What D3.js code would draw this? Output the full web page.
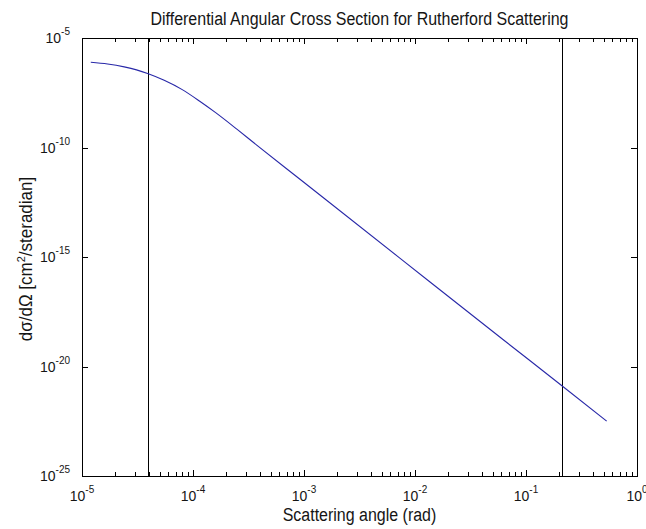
<!DOCTYPE html>
<html>
<head>
<meta charset="utf-8">
<script src="https://cdn.jsdelivr.net/npm/d3@7"></script>
<style>
  html, body { margin: 0; padding: 0; background: #fff; }
  svg { display: block; }
  text { font-family: "Liberation Sans", Arial, sans-serif; fill: #151515; }
</style>
</head>
<body>
<svg id="chart" width="646" height="529"></svg>
<script>
// Scattering angle (rad) and differential cross section (cm^2/sr)
const angle = [1.2e-5, 1.7e-5, 2.4e-5, 3.1e-5, 3.9e-5, 5.5e-5, 8.0e-5, 1.15e-4, 1.6e-4, 2.5e-4, 3.75e-4,
               9.2e-4, 7.3e-3, 6.0e-2, 0.212, 0.533];
const crossSection = [7.8e-7, 6.5e-7, 4.8e-7, 3.5e-7, 2.4e-7, 1.17e-7, 4.4e-8, 1.3e-8, 3.9e-9, 6.7e-10, 1.29e-10,
                      3.55e-12, 8.9e-16, 1.95e-19, 1.29e-21, 3.2e-23];

// Vertical marker lines (rad)
const markers = [3.9e-5, 0.212];

// Axis ticks
const xMajorExp = [-5, -4, -3, -2, -1, 0];
const yMajorExp = [-5, -10, -15, -20, -25];

const titleText = "Differential Angular Cross Section for Rutherford Scattering";
const xLabelText = "Scattering angle (rad)";

const plotL = 82, plotR = 637, plotT = 38, plotB = 476;
const stretch = 1.1; // glyphs are a little taller than wide

const x = d3.scaleLog().domain([1e-5, 1]).range([plotL, plotR]);
const y = d3.scaleLog().domain([1e-25, 1e-5]).range([plotB, plotT]);

const svg = d3.select("#chart");

// minor x ticks: 2..9 within each decade
const xMinor = [];
for (let e = -5; e < 0; e++) for (let k = 2; k <= 9; k++) xMinor.push(k * Math.pow(10, e));
const xMajor = xMajorExp.map(e => Math.pow(10, e));
const yMajor = yMajorExp.map(e => Math.pow(10, e));

const axisG = svg.append("g").attr("stroke", "#000").attr("stroke-width", 1).attr("shape-rendering", "crispEdges");

// ticks bottom and top (inward)
xMinor.forEach(v => {
  const px = Math.round(x(v)) + 0.5;
  axisG.append("line").attr("x1", px).attr("x2", px).attr("y1", plotB).attr("y2", plotB - 4);
  axisG.append("line").attr("x1", px).attr("x2", px).attr("y1", plotT).attr("y2", plotT + 4);
});
xMajor.forEach(v => {
  const px = Math.round(x(v)) + 0.5;
  axisG.append("line").attr("x1", px).attr("x2", px).attr("y1", plotB).attr("y2", plotB - 6);
  axisG.append("line").attr("x1", px).attr("x2", px).attr("y1", plotT).attr("y2", plotT + 6);
});
yMajor.forEach(v => {
  const py = Math.round(y(v)) + 0.5;
  axisG.append("line").attr("x1", plotL).attr("x2", plotL + 6).attr("y1", py).attr("y2", py);
  axisG.append("line").attr("x1", plotR).attr("x2", plotR - 6).attr("y1", py).attr("y2", py);
});

// marker lines
markers.forEach(v => {
  const px = Math.round(x(v)) + 0.5;
  axisG.append("line").attr("x1", px).attr("x2", px).attr("y1", plotT).attr("y2", plotB);
});

// curve
const pts = angle.map((a, i) => [a, crossSection[i]]);
svg.append("path")
  .datum(pts)
  .attr("fill", "none")
  .attr("stroke", "#2828a8")
  .attr("stroke-width", 1.1)
  .attr("d", d3.line().x(d => x(d[0])).y(d => y(d[1])).curve(d3.curveMonotoneX));

// box
axisG.append("rect")
  .attr("x", plotL + 0.5).attr("y", plotT + 0.5)
  .attr("width", plotR - plotL).attr("height", plotB - plotT)
  .attr("fill", "none");

function label(px, py, rot) {
  return svg.append("text")
    .attr("transform", `translate(${px},${py})${rot ? " rotate(" + rot + ")" : ""} scale(1,${stretch})`);
}

// tick labels
function powerLabel(sel, exp) {
  sel.append("tspan").text("10");
  sel.append("tspan").attr("dy", -7).attr("font-size", 10).text(String(exp));
}
xMajorExp.forEach(e => {
  const t = label(x(Math.pow(10, e)), 501).attr("text-anchor", "middle").attr("font-size", 14);
  powerLabel(t, e);
});
yMajorExp.forEach(e => {
  const t = label(70, y(Math.pow(10, e)) + 5).attr("text-anchor", "end").attr("font-size", 14);
  powerLabel(t, e);
});

// title
label((plotL + plotR) / 2, 25).attr("text-anchor", "middle").attr("font-size", 16).text(titleText);

// x label
label((plotL + plotR) / 2, 521).attr("text-anchor", "middle").attr("font-size", 16).text(xLabelText);

// y label (rotated)
const yl = svg.append("text")
  .attr("transform", `translate(32,${(plotT + plotB) / 2 + 2}) rotate(-90) scale(1,1.05)`)
  .attr("text-anchor", "middle")
  .attr("font-size", 17);
yl.append("tspan").text("dσ/dΩ [cm");
yl.append("tspan").attr("dy", -7).attr("font-size", 11).text("2");
yl.append("tspan").attr("dy", 7).text("/steradian]");
</script>
</body>
</html>
